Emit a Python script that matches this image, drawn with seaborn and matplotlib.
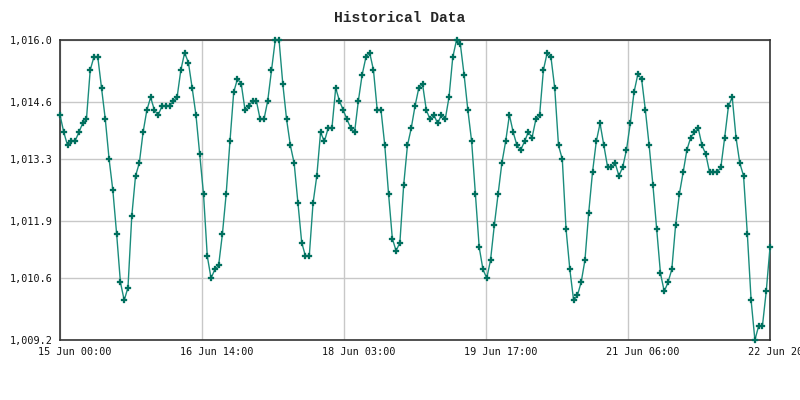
import numpy as np
import pandas as pd
import matplotlib
matplotlib.use("Agg")
import matplotlib.pyplot as plt
import matplotlib.dates as mdates
import matplotlib.transforms as mtransforms
import seaborn as sns

# ---- data (hourly readings, 15 Jun 00:00 -> 22 Jun 20:00) ----
start_time = "2024-06-15 00:00"
pressure = [
    1014.30, 1013.91, 1013.61, 1013.71, 1013.71, 1013.91, 1014.11, 1014.20, 1015.32, 1015.62,
    1015.62, 1014.91, 1014.20, 1013.30, 1012.59, 1011.60, 1010.51, 1010.10, 1010.39, 1012.00,
    1012.92, 1013.21, 1013.91, 1014.41, 1014.70, 1014.41, 1014.30, 1014.50, 1014.50, 1014.50,
    1014.62, 1014.70, 1015.32, 1015.71, 1015.49, 1014.91, 1014.30, 1013.41, 1012.51, 1011.10,
    1010.60, 1010.80, 1010.89, 1011.60, 1012.51, 1013.70, 1014.82, 1015.12, 1015.00, 1014.41,
    1014.50, 1014.62, 1014.62, 1014.20, 1014.20, 1014.62, 1015.32, 1016.00, 1016.00, 1015.00,
    1014.20, 1013.61, 1013.21, 1012.30, 1011.41, 1011.10, 1011.10, 1012.30, 1012.92, 1013.91,
    1013.70, 1014.00, 1014.00, 1014.91, 1014.62, 1014.41, 1014.20, 1014.00, 1013.91, 1014.62,
    1015.21, 1015.61, 1015.71, 1015.32, 1014.41, 1014.41, 1013.61, 1012.51, 1011.50, 1011.22,
    1011.41, 1012.71, 1013.61, 1014.00, 1014.50, 1014.91, 1015.00, 1014.41, 1014.20, 1014.30,
    1014.11, 1014.30, 1014.20, 1014.70, 1015.61, 1016.00, 1015.91, 1015.21, 1014.41, 1013.70,
    1012.51, 1011.30, 1010.80, 1010.60, 1011.01, 1011.80, 1012.51, 1013.21, 1013.70, 1014.30,
    1013.91, 1013.61, 1013.51, 1013.70, 1013.91, 1013.79, 1014.20, 1014.30, 1015.32, 1015.71,
    1015.61, 1014.91, 1013.61, 1013.30, 1011.71, 1010.80, 1010.10, 1010.21, 1010.51, 1011.01,
    1012.09, 1013.00, 1013.70, 1014.11, 1013.61, 1013.12, 1013.12, 1013.21, 1012.92, 1013.12,
    1013.51, 1014.11, 1014.82, 1015.22, 1015.12, 1014.41, 1013.61, 1012.71, 1011.71, 1010.71,
    1010.30, 1010.51, 1010.80, 1011.80, 1012.51, 1013.00, 1013.51, 1013.79, 1013.91, 1014.00,
    1013.61, 1013.41, 1013.00, 1013.00, 1013.00, 1013.12, 1013.79, 1014.50, 1014.70, 1013.79,
    1013.21, 1012.92, 1011.60, 1010.10, 1009.20, 1009.52, 1009.52, 1010.30, 1011.30,
]
x_tick_labels = ["15 Jun 00:00", "16 Jun 14:00", "18 Jun 03:00",
                 "19 Jun 17:00", "21 Jun 06:00", "22 Jun 20:00"]
y_tick_values = [1009.2, 1010.6, 1011.9, 1013.3, 1014.6, 1016.0]
y_tick_labels = ["1,009.2", "1,010.6", "1,011.9", "1,013.3", "1,014.6", "1,016.0"]
title = "Historical Data"

times = pd.date_range(start_time, periods=len(pressure), freq="h")
df = pd.DataFrame({"time": times, "pressure": pressure})

sns.set_theme(style="white")
mono = ["DejaVu Sans Mono"]
plt.rcParams["font.family"] = mono

fig = plt.figure(figsize=(8, 4), dpi=100)
ax = fig.add_axes([60 / 800, 1 - 340 / 400, 710 / 800, 300 / 400])

line_color = "#1a8c7c"
marker_color = "#006f5e"
sns.lineplot(data=df, x="time", y="pressure", ax=ax, color=line_color,
             linewidth=1.0, marker="P", markersize=4.3,
             markerfacecolor=marker_color, markeredgecolor=marker_color,
             markeredgewidth=0.2, clip_on=False, zorder=3)

x0, x1 = mdates.date2num(times[0]), mdates.date2num(times[-1])
ax.set_xlim(x0, x1)
ax.set_ylim(y_tick_values[0], y_tick_values[-1])

ax.set_xticks(np.linspace(x0, x1, len(x_tick_labels)))
ax.set_xticklabels(x_tick_labels, fontsize=7.3, color="#111111")
ax.set_yticks(y_tick_values)
ax.set_yticklabels(y_tick_labels, fontsize=7.3, color="#111111")
ax.tick_params(axis="both", length=0)
ax.tick_params(axis="x", pad=5)
ax.tick_params(axis="y", pad=5.5)

offset = mtransforms.ScaledTranslation(15 / 100, 0, fig.dpi_scale_trans)
for lbl in ax.get_xticklabels():
    lbl.set_transform(lbl.get_transform() + offset)

ax.set_xlabel("")
ax.set_ylabel("")
ax.grid(True, color="#c8c8c8", linewidth=1)
ax.set_axisbelow(True)
for sp in ax.spines.values():
    sp.set_color("#333333")
    sp.set_linewidth(1.2)

fig.text(0.5, 1 - 18 / 400, title, ha="center", va="center",
         fontsize=10.5, fontweight="bold", family=["Liberation Mono", "DejaVu Sans Mono"])

fig.savefig("out.png", dpi=100, facecolor="white")
